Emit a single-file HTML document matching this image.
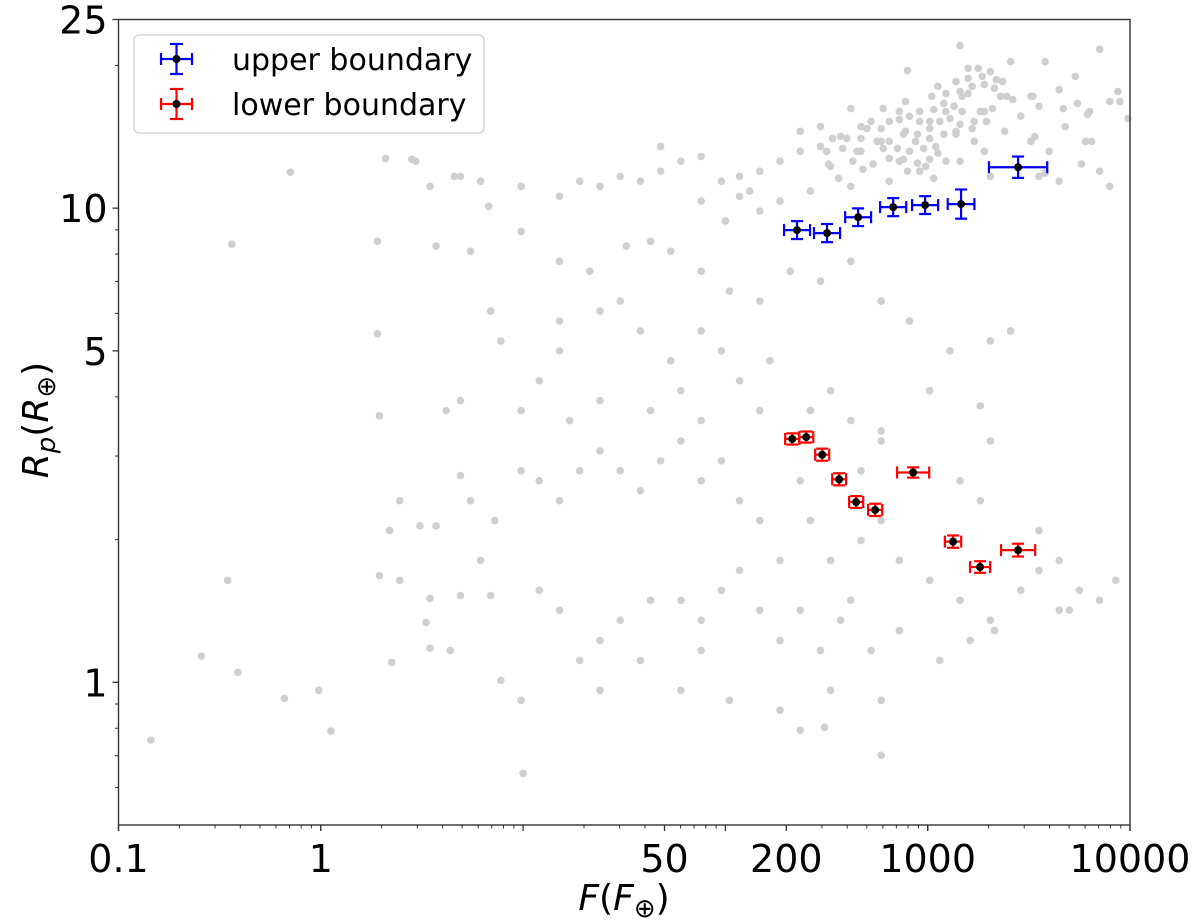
<!DOCTYPE html>
<html><head><meta charset="utf-8"><style>
html,body{margin:0;padding:0;background:#fff;}
svg{display:block;font-family:"DejaVu Sans","Liberation Sans",sans-serif;}
</style></head><body>
<svg id="chart" width="1200" height="923" viewBox="0 0 1200 923" xmlns="http://www.w3.org/2000/svg">
<g id="gray"></g>
<g id="marks"></g>
<g id="axes"></g>
<g id="legend">
  <rect x="134" y="35" width="350" height="98" rx="5" fill="#fff" stroke="#d6d6d6" stroke-width="1.5"/>
  <g stroke="#0000ff" stroke-width="2.2">
    <line x1="161" y1="59" x2="192" y2="59"/><line x1="161" y1="53" x2="161" y2="65"/><line x1="192" y1="53" x2="192" y2="65"/>
    <line x1="176.5" y1="44" x2="176.5" y2="74"/><line x1="170" y1="44" x2="183" y2="44"/><line x1="170" y1="74" x2="183" y2="74"/>
    <circle cx="176.5" cy="59" r="4" fill="#000" stroke="none"/>
  </g>
  <text x="232" y="70" font-size="30" fill="#000">upper boundary</text>
  <g stroke="#ff0000" stroke-width="2.2">
    <line x1="161" y1="104" x2="192" y2="104"/><line x1="161" y1="98" x2="161" y2="110"/><line x1="192" y1="98" x2="192" y2="110"/>
    <line x1="176.5" y1="89" x2="176.5" y2="119"/><line x1="170" y1="89" x2="183" y2="89"/><line x1="170" y1="119" x2="183" y2="119"/>
    <circle cx="176.5" cy="104" r="4" fill="#000" stroke="none"/>
  </g>
  <text x="232" y="115" font-size="30" fill="#000">lower boundary</text>
</g>
<text x="624" y="910" font-size="36" text-anchor="middle" fill="#000"><tspan font-style="italic">F</tspan>(<tspan font-style="italic">F</tspan><tspan font-size="26" dy="7">⊕</tspan><tspan dy="-7">)</tspan></text>
<text transform="translate(48,420) rotate(-90)" font-size="36" text-anchor="middle" fill="#000"><tspan font-style="italic">R</tspan><tspan font-style="italic" font-size="26" dy="7">p</tspan><tspan dy="-7">(</tspan><tspan font-style="italic">R</tspan><tspan font-size="26" dy="7">⊕</tspan><tspan dy="-7">)</tspan></text>
</svg>
<script>
// Background planets (log10 flux, log10 radius)
const grayLogF = [3.16,3.41,3.85,3.58,3.73,3.31,3.65,3.95,3.99,3.80,3.55,3.36,3.16,3.09,3.01,2.89,2.77,2.67,2.57,2.47,2.37,2.27,2.17,2.07,1.98,1.88,1.78,1.68,1.58,1.48,1.38,1.28,1.18,0.99,0.79,0.69,0.54,0.47,1.88,2.12,2.52,2.72,2.89,3.04,3.14,3.23,3.28,3.38,3.46,3.53,3.60,3.68,3.78,3.85,3.90,3.65,3.55,3.31,3.16,2.99,2.81,2.62,2.42,2.27,2.17,2.07,2.00,2.86,2.94,3.09,3.23,3.51,3.28,3.14,2.81,2.67,2.47,2.37,1.68,-0.15,0.32,0.45,0.66,0.83,
2.90,3.05,3.20,3.25,3.20,3.27,3.34,3.37,3.02,3.09,3.17,3.20,3.22,3.28,3.33,3.39,3.42,2.62,2.78,2.86,2.96,3.03,3.08,3.13,3.17,3.26,3.32,2.70,2.77,2.86,2.91,2.96,3.01,3.06,3.11,3.16,3.22,3.29,2.53,2.60,2.67,2.75,2.81,2.88,2.95,3.01,3.08,3.14,2.50,2.58,2.65,2.78,2.85,2.91,2.98,3.05,2.63,2.73,2.81,2.88,2.95,3.01,2.51,2.56,2.68,2.90,2.96,3.03,3.52,3.51,3.67,3.74,3.79,3.90,3.94,3.81,3.76,3.58,
-0.44,0.28,0.57,0.74,0.99,1.18,1.33,1.51,1.63,1.73,1.88,2.02,2.17,2.32,2.47,2.62,2.77,2.91,3.11,3.31,3.41,1.48,1.38,1.58,1.73,1.88,1.98,2.07,2.22,2.42,2.62,2.77,3.01,3.26,1.18,1.08,0.84,0.89,1.23,1.38,1.63,1.78,0.99,0.69,0.28,0.29,0.62,1.88,2.17,2.52,1.18,
0.39,0.49,0.34,0.57,0.69,0.74,0.79,0.86,0.99,1.08,1.18,1.28,1.38,1.48,1.58,1.68,1.78,1.88,1.98,2.07,2.17,2.27,2.37,2.42,2.52,2.62,2.67,2.77,2.86,3.01,3.16,3.31,3.46,3.55,3.65,3.75,3.85,3.93,3.65,3.55,3.26,3.16,3.31,2.77,2.67,0.39,0.29,0.54,0.69,0.84,1.08,1.18,1.38,1.48,1.63,1.78,1.88,1.98,2.07,2.17,2.27,2.37,2.47,2.57,2.72,2.86,3.06,3.21,3.33,3.70,0.64,0.89,0.99,1.28,1.58,1.38,1.78,1.88,2.02,2.27,2.37,2.52,2.77,2.77,2.49,1.00,0.54,0.52,0.35,-0.01,0.05,-0.41,-0.46,-0.84,-0.59,-0.18];
const grayLogR = [1.343,1.309,1.335,1.309,1.278,1.288,1.250,1.225,1.189,1.204,1.215,1.236,1.246,1.204,1.183,1.162,1.141,1.120,1.151,1.130,1.120,1.099,1.078,1.067,1.057,1.109,1.099,1.078,1.057,1.067,1.046,1.057,1.025,1.046,1.057,1.067,1.046,1.099,1.015,1.036,1.088,1.183,1.225,1.130,1.162,1.183,1.120,1.162,1.194,1.151,1.120,1.172,1.141,1.078,1.046,1.057,1.067,1.067,1.099,1.088,1.057,1.046,1.036,1.015,0.994,1.025,0.973,1.099,1.141,1.099,1.141,1.236,1.204,1.267,1.183,1.172,1.172,1.162,1.130,1.076,1.105,1.103,1.067,1.004,
1.290,1.257,1.295,1.295,1.274,1.278,1.271,1.267,1.236,1.242,1.236,1.242,1.257,1.261,1.253,1.236,1.229,1.210,1.210,1.204,1.204,1.208,1.221,1.215,1.204,1.204,1.210,1.168,1.168,1.187,1.194,1.183,1.168,1.183,1.189,1.177,1.168,1.183,1.147,1.147,1.147,1.141,1.141,1.156,1.156,1.147,1.156,1.156,1.120,1.126,1.120,1.126,1.126,1.120,1.126,1.116,1.099,1.093,1.105,1.103,1.095,1.103,1.093,1.063,1.082,1.078,1.078,1.063,1.236,1.141,1.210,1.221,1.198,1.225,1.246,1.141,1.093,1.074,
0.924,0.930,0.920,0.909,0.951,0.888,0.867,0.920,0.930,0.909,0.867,0.825,0.804,0.867,0.846,0.888,0.804,0.762,0.699,0.720,0.741,0.804,0.783,0.741,0.678,0.741,0.699,0.636,0.678,0.573,0.552,0.530,0.615,0.583,0.699,0.636,0.783,0.720,0.552,0.594,0.573,0.615,0.573,0.594,0.735,0.562,0.573,0.552,0.573,0.615,0.762,
0.383,0.330,0.320,0.330,0.436,0.383,0.257,0.341,0.446,0.425,0.383,0.446,0.488,0.446,0.404,0.467,0.509,0.425,0.467,0.383,0.341,0.257,0.425,0.341,0.257,0.173,0.299,0.341,0.257,0.215,0.173,0.131,0.194,0.236,0.152,0.194,0.173,0.215,0.257,0.320,0.383,0.425,0.509,0.509,0.446,0.215,0.225,0.177,0.183,0.183,0.194,0.152,0.088,0.131,0.173,0.173,0.131,0.194,0.236,0.152,0.088,0.152,0.067,0.131,0.067,0.109,0.046,0.088,0.109,0.152,0.067,0.004,-0.038,0.046,0.046,-0.017,-0.017,0.067,-0.038,-0.059,-0.101,-0.017,-0.038,-0.154,-0.095,-0.192,0.072,0.126,0.042,-0.017,-0.103,0.021,0.215,-0.122,0.055,-0.034];

// Upper boundary series
const upperF = [226,318,453,675,971,1462,2798];
const upperR = [8.99,8.86,9.57,10.05,10.15,10.2,12.2];
const upperFerr = [36,51,72,108,155,240,1100];
const upperRerr = [0.40,0.40,0.42,0.45,0.45,0.75,0.65];
// Lower boundary series
const lowerF = [214,251,301,365,443,550,847,1334,1815,2798];
const lowerR = [3.26,3.29,3.02,2.68,2.40,2.31,2.77,1.98,1.75,1.90];
const lowerFerr = [18,21,25,30,37,46,170,130,220,600];
const lowerRerr = [0.09,0.09,0.09,0.08,0.07,0.07,0.07,0.06,0.05,0.06];

const xTickVals = [0.1,1,50,200,1000,10000];
const xTickLabels = ["0.1","1","50","200","1000","10000"];
const yTickVals = [1,5,10,25];
const yTickLabels = ["1","5","10","25"];

const X0=118.5, X1=1130, Y0=825, Y1=19.5;
const xMin=-1, xMax=4, yMin=Math.log10(0.5), yMax=Math.log10(25);
function sx(v){return X0+(Math.log10(v)-xMin)/(xMax-xMin)*(X1-X0);}
function sy(v){return Y0-(Math.log10(v)-yMin)/(yMax-yMin)*(Y0-Y1);}
function sxl(l){return X0+(l-xMin)/(xMax-xMin)*(X1-X0);}
function syl(l){return Y0-(l-yMin)/(yMax-yMin)*(Y0-Y1);}
const NS="http://www.w3.org/2000/svg";
function mk(tag,attrs,parent){const e=document.createElementNS(NS,tag);for(const k in attrs)e.setAttribute(k,attrs[k]);parent.appendChild(e);return e;}

const gray=document.getElementById('gray');
for(let i=0;i<grayLogF.length;i++){
  const c=mk('circle',{cx:sxl(grayLogF[i]),cy:syl(grayLogR[i]),r:3.8,fill:'#cfcfcf'},gray);
  
  
}

const marks=document.getElementById('marks');
function series(F,R,Fe,Re,color,name){
  for(let i=0;i<F.length;i++){
    const g=mk('g',{stroke:color,'stroke-width':2.2},marks);
    
    
    const cx=sx(F[i]),cy=sy(R[i]);
    const xr=sx(F[i]+Fe[i]);
    const xl=2*cx-xr;
    const yt=sy(R[i]+Re[i]);
    const yb=2*cy-yt;
    mk('line',{x1:xl,y1:cy,x2:xr,y2:cy},g);
    mk('line',{x1:xl,y1:cy-6,x2:xl,y2:cy+6},g);
    mk('line',{x1:xr,y1:cy-6,x2:xr,y2:cy+6},g);
    mk('line',{x1:cx,y1:yt,x2:cx,y2:yb},g);
    mk('line',{x1:cx-6,y1:yt,x2:cx+6,y2:yt},g);
    mk('line',{x1:cx-6,y1:yb,x2:cx+6,y2:yb},g);
    mk('circle',{cx:cx,cy:cy,r:4,fill:'#000',stroke:'none'},g);
  }
}
series(upperF,upperR,upperFerr,upperRerr,'#0000ff','upper-boundary');
series(lowerF,lowerR,lowerFerr,lowerRerr,'#ff0000','lower-boundary');

const axes=document.getElementById('axes');
const frame=mk('rect',{x:X0,y:Y1,width:X1-X0,height:Y0-Y1,fill:'none',stroke:'#333','stroke-width':1.4},axes);


for(let d=-1;d<4;d++){for(let m=2;m<=9;m++){const x=sxl(d+Math.log10(m));mk('line',{x1:x,y1:Y0,x2:x,y2:Y0+3.5,stroke:'#333','stroke-width':1},axes);}}
for(let d=-1;d<=4;d++){const x=sxl(d);mk('line',{x1:x,y1:Y0,x2:x,y2:Y0+6,stroke:'#333','stroke-width':1.3},axes);}
xTickVals.forEach((v,i)=>{
  const x=sx(v);
  mk('line',{x1:x,y1:Y0,x2:x,y2:Y0+6,stroke:'#333','stroke-width':1.3},axes);
  const t=mk('text',{x:x,y:Y0+47,'font-size':38,'text-anchor':'middle',fill:'#000'},axes);
  t.textContent=xTickLabels[i];
  
  
});
[0.6,0.7,0.8,0.9,2,3,4,6,7,8,9,20].forEach(v=>{const y=sy(v);mk('line',{x1:X0-3.5,y1:y,x2:X0,y2:y,stroke:'#333','stroke-width':1},axes);});
yTickVals.forEach((v,i)=>{
  const y=sy(v);
  mk('line',{x1:X0-6,y1:y,x2:X0,y2:y,stroke:'#333','stroke-width':1.3},axes);
  const t=mk('text',{x:X0-11,y:y+14,'font-size':38,'text-anchor':'end',fill:'#000'},axes);
  t.textContent=yTickLabels[i];
  
  
});
</script>
</body></html>
